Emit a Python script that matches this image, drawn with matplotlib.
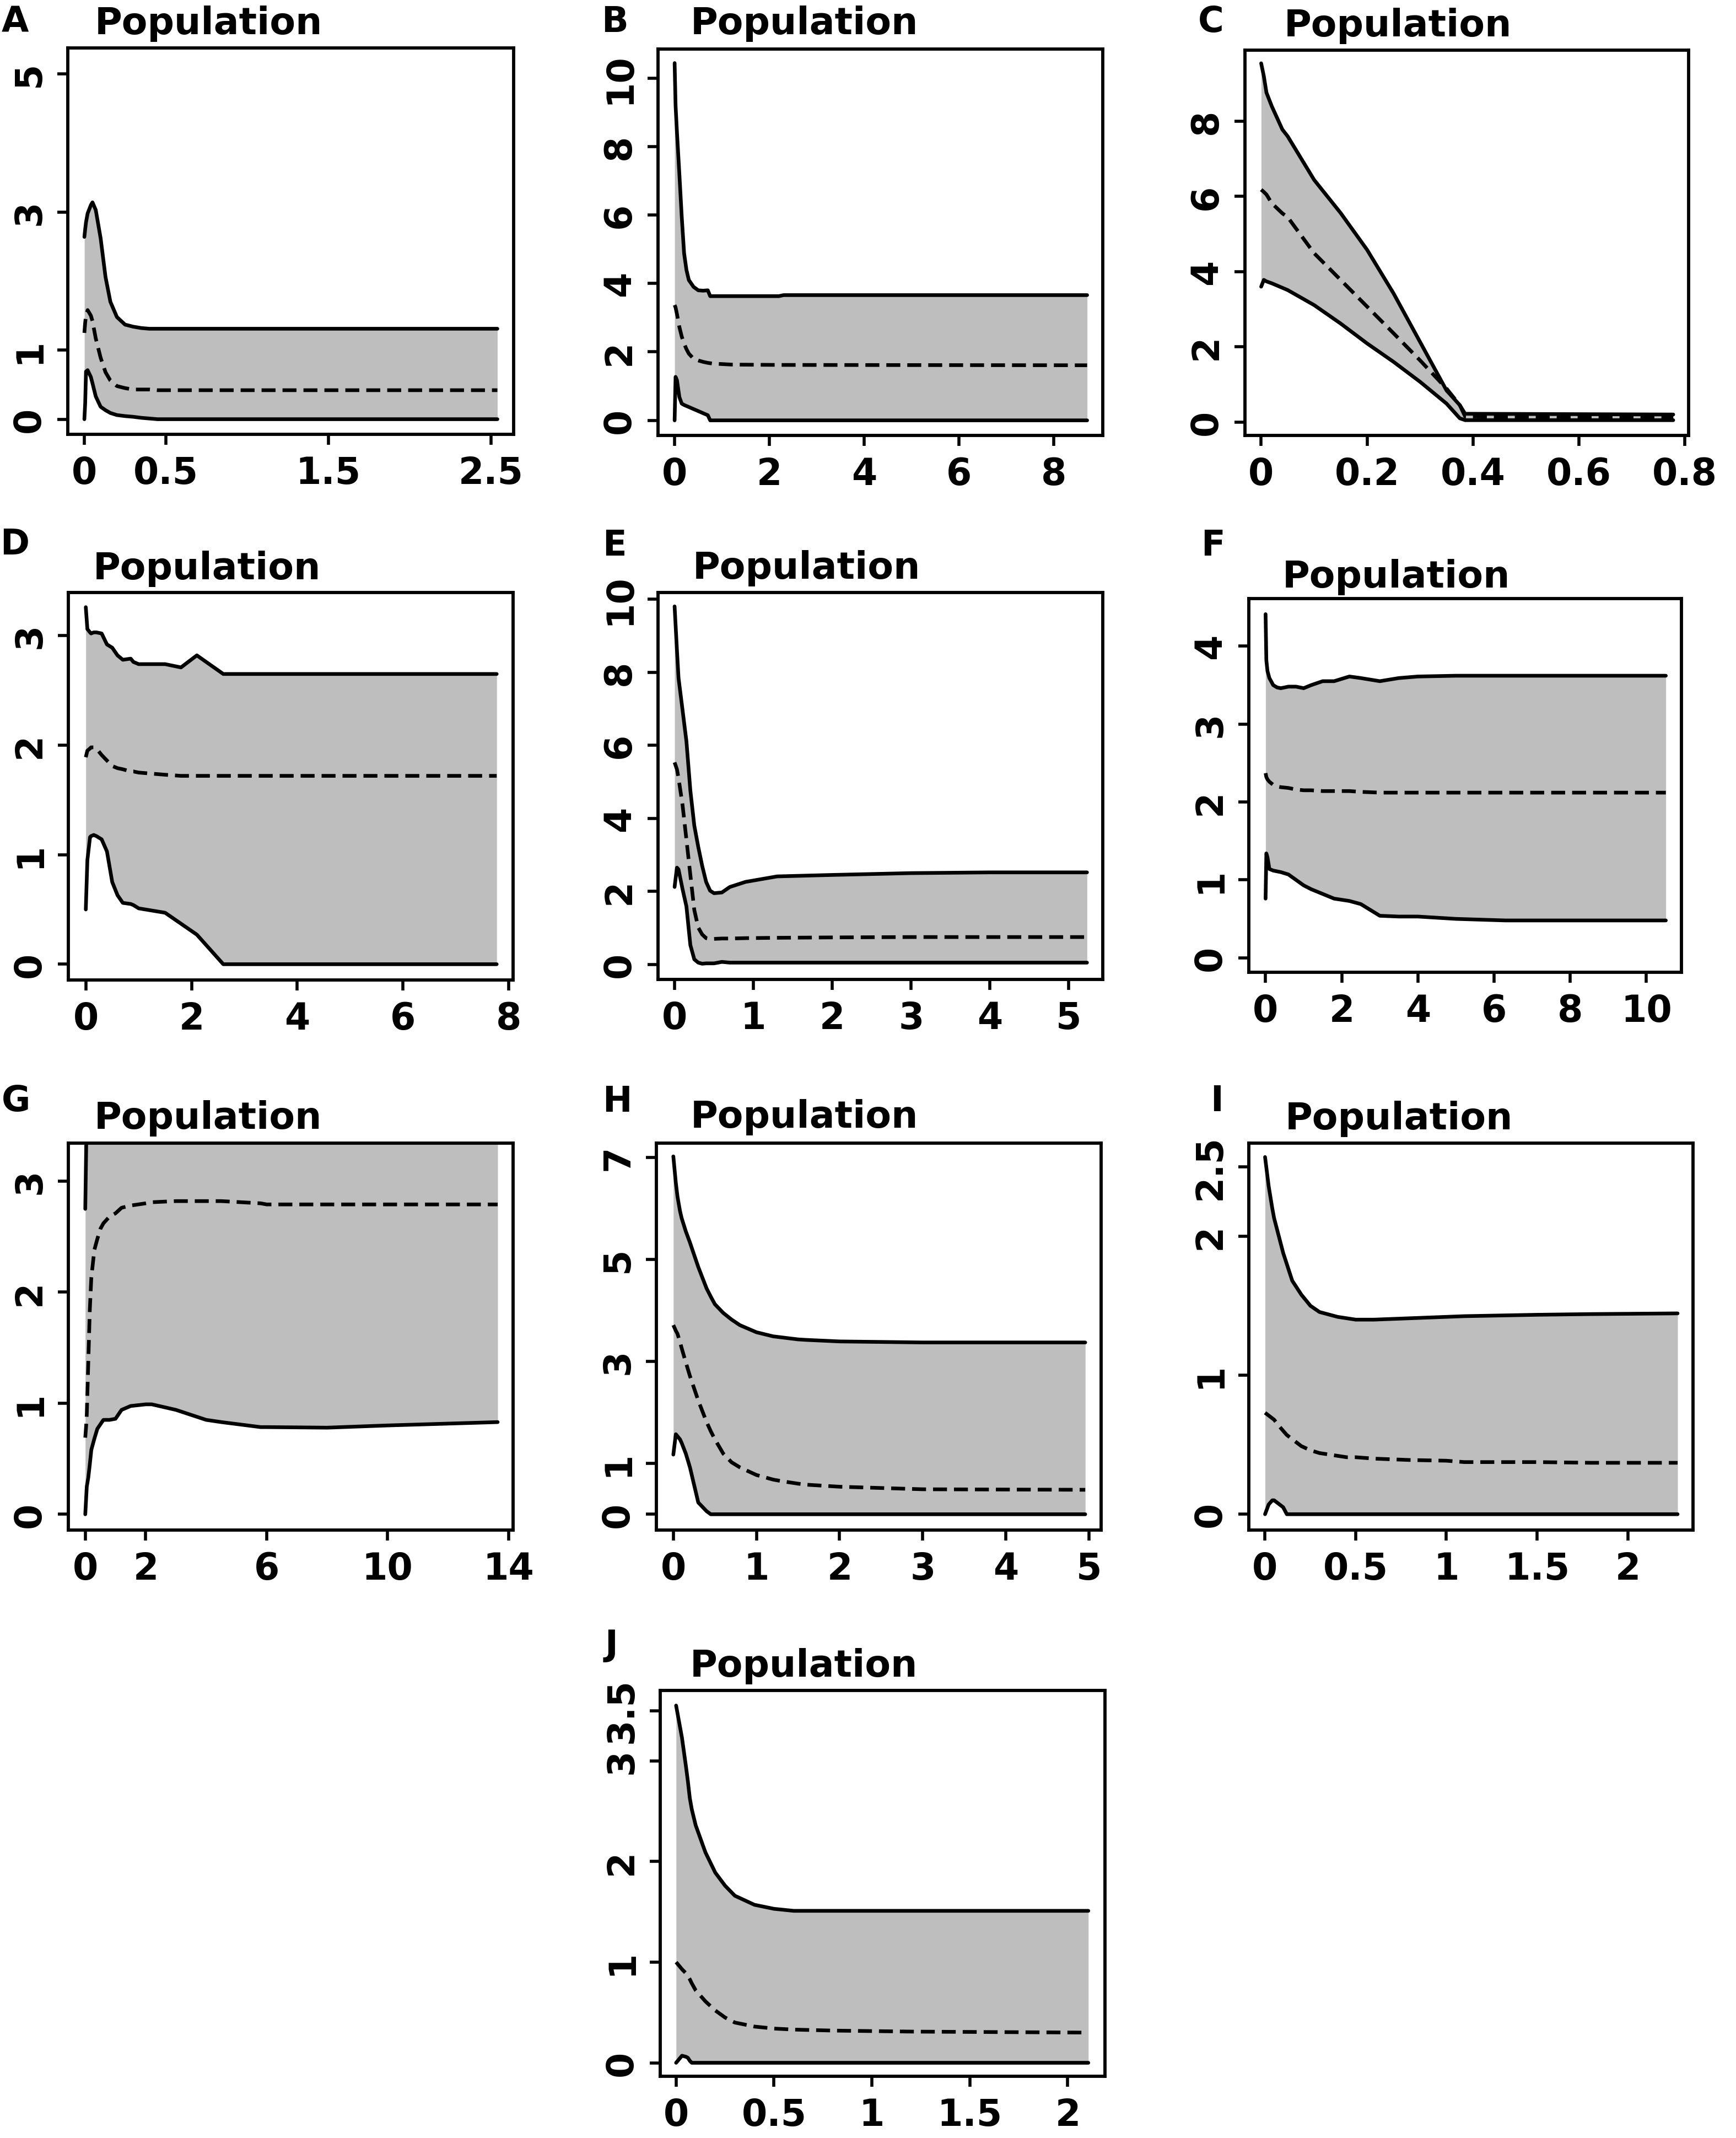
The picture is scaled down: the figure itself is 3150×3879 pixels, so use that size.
import matplotlib
matplotlib.use("Agg")
import matplotlib.pyplot as plt

plt.rcParams['font.family'] = ['DejaVu Sans']
plt.rcParams['font.weight'] = 'bold'

W, H = 3150, 3880

# ---------------- data ----------------
A_x = [0, 0.005, 0.01, 0.02, 0.04, 0.05, 0.07, 0.1, 0.13, 0.16, 0.2, 0.25, 0.3, 0.35, 0.4, 0.45, 0.5, 1.0, 1.5, 2.0, 2.54]
A_upper = [2.64, 2.75, 2.85, 2.98, 3.10, 3.14, 3.03, 2.62, 2.06, 1.70, 1.48, 1.37, 1.34, 1.32, 1.31, 1.31, 1.31, 1.31, 1.31, 1.31, 1.31]
A_median = [1.25, 1.40, 1.50, 1.58, 1.50, 1.42, 1.17, 0.89, 0.68, 0.56, 0.48, 0.45, 0.43, 0.43, 0.43, 0.42, 0.42, 0.42, 0.42, 0.42, 0.42]
A_lower = [0, 0.23, 0.69, 0.71, 0.61, 0.52, 0.33, 0.18, 0.13, 0.09, 0.06, 0.045, 0.035, 0.02, 0.01, 0, 0, 0, 0, 0, 0]

B_x = [0, 0.02, 0.05, 0.1, 0.15, 0.2, 0.25, 0.3, 0.4, 0.5, 0.6, 0.7, 0.75, 0.8, 1.2, 2.2, 2.3, 8.7]
B_upper = [10.44, 9.2, 8.4, 7.2, 5.95, 4.88, 4.39, 4.10, 3.90, 3.80, 3.79, 3.80, 3.63, 3.63, 3.63, 3.63, 3.66, 3.66]
B_median = [3.37, 3.30, 3.10, 2.73, 2.45, 2.24, 2.08, 1.95, 1.80, 1.75, 1.71, 1.68, 1.67, 1.66, 1.63, 1.62, 1.62, 1.61]
B_lower = [0, 1.27, 1.17, 0.68, 0.49, 0.45, 0.42, 0.39, 0.33, 0.27, 0.21, 0.15, 0, 0, 0, 0, 0, 0]

C_x = [0, 0.005, 0.01, 0.02, 0.04, 0.05, 0.1, 0.15, 0.2, 0.25, 0.3, 0.35, 0.375, 0.385, 0.778]
C_upper = [9.54, 9.2, 8.76, 8.4, 7.78, 7.6, 6.44, 5.56, 4.58, 3.42, 2.13, 0.84, 0.45, 0.22, 0.2]
C_median = [6.18, 6.12, 6.05, 5.82, 5.55, 5.45, 4.49, 3.78, 3.07, 2.36, 1.64, 0.89, 0.45, 0.15, 0.12]
C_lower = [3.6, 3.78, 3.74, 3.69, 3.57, 3.51, 3.11, 2.62, 2.09, 1.60, 1.07, 0.49, 0.1, 0.05, 0.05]

D_x = [0, 0.03, 0.08, 0.1, 0.15, 0.2, 0.3, 0.4, 0.5, 0.6, 0.7, 0.85, 0.9, 1.0, 1.5, 1.8, 2.1, 2.6, 7.77]
D_upper = [3.26, 3.06, 3.03, 3.02, 3.03, 3.03, 3.02, 2.92, 2.89, 2.82, 2.78, 2.79, 2.76, 2.74, 2.74, 2.71, 2.82, 2.65, 2.65]
D_median = [1.89, 1.95, 1.97, 1.98, 1.98, 1.97, 1.91, 1.86, 1.81, 1.79, 1.78, 1.76, 1.76, 1.75, 1.73, 1.72, 1.72, 1.72, 1.72]
D_lower = [0.5, 0.95, 1.16, 1.17, 1.18, 1.17, 1.14, 1.03, 0.75, 0.63, 0.56, 0.55, 0.54, 0.51, 0.47, 0.37, 0.27, 0, 0]

E_x = [0, 0.03, 0.05, 0.1, 0.15, 0.2, 0.25, 0.3, 0.35, 0.4, 0.45, 0.5, 0.6, 0.7, 0.9, 1.3, 2, 3, 4, 5.23]
E_upper = [9.80, 8.6, 7.84, 6.98, 6.11, 4.76, 3.80, 3.22, 2.70, 2.26, 2.02, 1.95, 1.97, 2.12, 2.26, 2.41, 2.45, 2.50, 2.52, 2.52]
E_median = [5.53, 5.34, 5.1, 4.38, 3.42, 2.45, 1.49, 1.01, 0.82, 0.72, 0.70, 0.70, 0.71, 0.71, 0.72, 0.73, 0.74, 0.75, 0.75, 0.75]
E_lower = [2.12, 2.65, 2.60, 2.07, 1.59, 0.53, 0.14, 0.05, 0.02, 0.03, 0.03, 0.03, 0.07, 0.05, 0.05, 0.05, 0.05, 0.05, 0.05, 0.05]

F_x = [0, 0.02, 0.05, 0.1, 0.2, 0.3, 0.4, 0.6, 0.8, 1.0, 1.2, 1.5, 1.8, 2.2, 2.5, 3, 3.5, 4, 5, 6.3, 10.51]
F_upper = [4.41, 3.82, 3.68, 3.59, 3.50, 3.47, 3.46, 3.48, 3.48, 3.46, 3.50, 3.55, 3.55, 3.61, 3.59, 3.55, 3.59, 3.61, 3.62, 3.62, 3.62]
F_median = [2.37, 2.32, 2.29, 2.26, 2.22, 2.20, 2.19, 2.18, 2.16, 2.15, 2.15, 2.14, 2.14, 2.14, 2.13, 2.12, 2.12, 2.12, 2.12, 2.12, 2.12]
F_lower = [0.76, 1.34, 1.29, 1.14, 1.12, 1.11, 1.10, 1.07, 1.00, 0.93, 0.88, 0.82, 0.76, 0.73, 0.69, 0.54, 0.53, 0.53, 0.50, 0.48, 0.48]

G_x = [0, 0.03, 0.05, 0.1, 0.15, 0.2, 0.3, 0.4, 0.5, 0.6, 0.8, 1.0, 1.2, 1.5, 2, 2.2, 3, 4, 4.5, 5.8, 6, 8, 10, 13.64]
G_upper = [2.75, 3.3, 4.0, 4.5, 4.5, 4.5, 4.5, 4.5, 4.5, 4.5, 4.5, 4.5, 4.5, 4.5, 4.5, 4.5, 4.5, 4.5, 4.5, 4.5, 4.5, 4.5, 4.5, 4.5]
G_median = [0.69, 0.8, 0.9, 1.37, 1.84, 2.13, 2.38, 2.48, 2.57, 2.62, 2.68, 2.71, 2.76, 2.78, 2.80, 2.81, 2.82, 2.82, 2.82, 2.80, 2.79, 2.79, 2.79, 2.79]
G_lower = [0, 0.15, 0.25, 0.33, 0.45, 0.58, 0.68, 0.77, 0.81, 0.85, 0.85, 0.86, 0.94, 0.975, 0.99, 0.99, 0.94, 0.85, 0.83, 0.785, 0.785, 0.78, 0.80, 0.83]

H_x = [0, 0.03, 0.05, 0.08, 0.1, 0.15, 0.2, 0.3, 0.4, 0.45, 0.5, 0.6, 0.7, 0.8, 1.0, 1.2, 1.3, 1.5, 1.6, 2, 3, 4.955]
H_upper = [7.02, 6.5, 6.23, 5.95, 5.81, 5.55, 5.33, 4.85, 4.43, 4.27, 4.12, 3.95, 3.82, 3.71, 3.57, 3.49, 3.47, 3.43, 3.42, 3.39, 3.37, 3.37]
H_median = [3.71, 3.60, 3.54, 3.38, 3.26, 2.98, 2.71, 2.23, 1.81, 1.63, 1.47, 1.19, 1.02, 0.92, 0.77, 0.68, 0.65, 0.60, 0.58, 0.54, 0.49, 0.48]
H_lower = [1.17, 1.57, 1.53, 1.47, 1.40, 1.19, 0.92, 0.23, 0.06, 0, 0, 0, 0, 0, 0, 0, 0, 0, 0, 0, 0, 0]

I_x = [0, 0.02, 0.04, 0.05, 0.08, 0.1, 0.12, 0.15, 0.2, 0.25, 0.3, 0.4, 0.45, 0.5, 0.6, 0.8, 1.0, 1.1, 1.5, 1.8, 2.275]
I_upper = [2.57, 2.36, 2.20, 2.13, 1.98, 1.88, 1.80, 1.68, 1.58, 1.50, 1.455, 1.42, 1.41, 1.40, 1.40, 1.41, 1.42, 1.425, 1.435, 1.44, 1.445]
I_median = [0.73, 0.71, 0.69, 0.68, 0.63, 0.60, 0.57, 0.54, 0.49, 0.46, 0.44, 0.42, 0.41, 0.41, 0.40, 0.39, 0.385, 0.375, 0.375, 0.37, 0.37]
I_lower = [0, 0.07, 0.10, 0.10, 0.07, 0.05, 0, 0, 0, 0, 0, 0, 0, 0, 0, 0, 0, 0, 0, 0, 0]

J_x = [0, 0.03, 0.05, 0.06, 0.07, 0.08, 0.1, 0.15, 0.2, 0.25, 0.3, 0.4, 0.45, 0.5, 0.6, 0.8, 1.2, 2.105]
J_upper = [3.55, 3.23, 2.95, 2.80, 2.63, 2.52, 2.36, 2.09, 1.89, 1.76, 1.66, 1.57, 1.55, 1.53, 1.51, 1.51, 1.51, 1.51]
J_median = [1.0, 0.93, 0.89, 0.86, 0.83, 0.79, 0.72, 0.61, 0.52, 0.45, 0.40, 0.36, 0.35, 0.34, 0.33, 0.32, 0.31, 0.30]
J_lower = [0, 0.07, 0.06, 0.05, 0.02, 0, 0, 0, 0, 0, 0, 0, 0, 0, 0, 0, 0, 0]

A_xticks = ["0", "0.5", "1.5", "2.5"];  A_yticks = ["0", "1", "3", "5"]
B_xticks = ["0", "2", "4", "6", "8"];   B_yticks = ["0", "2", "4", "6", "8", "10"]
C_xticks = ["0", "0.2", "0.4", "0.6", "0.8"]; C_yticks = ["0", "2", "4", "6", "8"]
D_xticks = ["0", "2", "4", "6", "8"];   D_yticks = ["0", "1", "2", "3"]
E_xticks = ["0", "1", "2", "3", "4", "5"]; E_yticks = ["0", "2", "4", "6", "8", "10"]
F_xticks = ["0", "2", "4", "6", "8", "10"]; F_yticks = ["0", "1", "2", "3", "4"]
G_xticks = ["0", "2", "6", "10", "14"]; G_yticks = ["0", "1", "2", "3"]
H_xticks = ["0", "1", "2", "3", "4", "5"]; H_yticks = ["0", "1", "3", "5", "7"]
I_xticks = ["0", "0.5", "1", "1.5", "2"]; I_yticks = ["0", "1", "2", "2.5"]
J_xticks = ["0", "0.5", "1", "1.5", "2"]; J_yticks = ["0", "1", "2", "3", "3.5"]

panel_letters = ["A", "B", "C", "D", "E", "F", "G", "H", "I", "J"]
panel_title = "Population"

# ---------------- layout (pixels in the 3150x3880 canvas) ----------------
layout = {
    "A": dict(box=(123, 932, 88, 789), xlim=(-0.102, 2.64), ylim=(-0.219, 5.376), title=(172, 62), letter=(3, 59)),
    "B": dict(box=(1194, 2001, 90, 791), xlim=(-0.35, 9.03), ylim=(-0.44, 10.85), title=(1253, 62), letter=(1091, 58)),
    "C": dict(box=(2259, 3064, 92, 791), xlim=(-0.0306, 0.807), ylim=(-0.356, 9.89), title=(2330, 66), letter=(2174, 58)),
    "D": dict(box=(124, 931, 1076, 1779), xlim=(-0.33, 8.08), ylim=(-0.144, 3.394), title=(169, 1051), letter=(0, 1006)),
    "E": dict(box=(1194, 2001, 1076, 1778), xlim=(-0.21, 5.43), ylim=(-0.41, 10.18), title=(1257, 1050), letter=(1093, 1008)),
    "F": dict(box=(2266, 3051, 1087, 1765), xlim=(-0.44, 10.92), ylim=(-0.185, 4.61), title=(2327, 1066), letter=(2179, 1008)),
    "G": dict(box=(124, 931, 2075, 2777), xlim=(-0.56, 14.15), ylim=(-0.142, 3.342), title=(171, 2048), letter=(3, 2016)),
    "H": dict(box=(1191, 1998, 2075, 2777), xlim=(-0.204, 5.146), ylim=(-0.31, 7.28), title=(1253, 2046), letter=(1093, 2017)),
    "I": dict(box=(2266, 3072, 2075, 2777), xlim=(-0.0895, 2.36), ylim=(-0.114, 2.67), title=(2332, 2049), letter=(2196, 2016)),
    "J": dict(box=(1198, 2005, 3068, 3768), xlim=(-0.081, 2.19), ylim=(-0.134, 3.70), title=(1252, 3042), letter=(1098, 3003)),
}

series = {
    "A": (A_x, A_upper, A_median, A_lower, A_xticks, A_yticks),
    "B": (B_x, B_upper, B_median, B_lower, B_xticks, B_yticks),
    "C": (C_x, C_upper, C_median, C_lower, C_xticks, C_yticks),
    "D": (D_x, D_upper, D_median, D_lower, D_xticks, D_yticks),
    "E": (E_x, E_upper, E_median, E_lower, E_xticks, E_yticks),
    "F": (F_x, F_upper, F_median, F_lower, F_xticks, F_yticks),
    "G": (G_x, G_upper, G_median, G_lower, G_xticks, G_yticks),
    "H": (H_x, H_upper, H_median, H_lower, H_xticks, H_yticks),
    "I": (I_x, I_upper, I_median, I_lower, I_xticks, I_yticks),
    "J": (J_x, J_upper, J_median, J_lower, J_xticks, J_yticks),
}

FILL = "#BEBEBE"
LW = 4.8
FS_TICK = 48
FS_TITLE = 49

fig = plt.figure(figsize=(W / 100, H / 100), dpi=100)
fig.patch.set_facecolor("white")

for key in panel_letters:
    lay = layout[key]
    x, up, med, lo, xt, yt = series[key]
    l, r, t, b = lay["box"]
    ax = fig.add_axes([l / W, 1 - b / H, (r - l) / W, (b - t) / H])
    ax.fill_between(x, lo, up, color=FILL, linewidth=0, zorder=1)
    ax.plot(x, up, color="black", lw=LW, solid_joinstyle="round", solid_capstyle="round", zorder=3)
    ax.plot(x, lo, color="black", lw=LW, solid_joinstyle="round", solid_capstyle="round", zorder=3)
    ax.plot(x, med, color="black", lw=LW, linestyle=(0, (3.8, 1.9)), zorder=3)
    ax.set_xlim(*lay["xlim"])
    ax.set_ylim(*lay["ylim"])
    ax.set_xticks([float(v) for v in xt])
    ax.set_xticklabels(xt, fontsize=FS_TICK, fontweight="bold")
    ax.set_yticks([float(v) for v in yt])
    ax.set_yticklabels(yt, rotation=90, va="center", fontsize=FS_TICK, fontweight="bold")
    ax.tick_params(axis="both", direction="out", length=13.5, width=4.0, pad=13)
    for sp in ax.spines.values():
        sp.set_linewidth(4.2)
    tx, ty = lay["title"]
    fig.text(tx / W, 1 - ty / H, panel_title, ha="left", va="baseline",
             fontsize=FS_TITLE, fontweight="bold")
    lx, ly = lay["letter"]
    fig.text(lx / W, 1 - ly / H, key, ha="left", va="baseline",
             fontsize=46, fontweight="bold")

fig.savefig("out.png", dpi=100, facecolor="white")
